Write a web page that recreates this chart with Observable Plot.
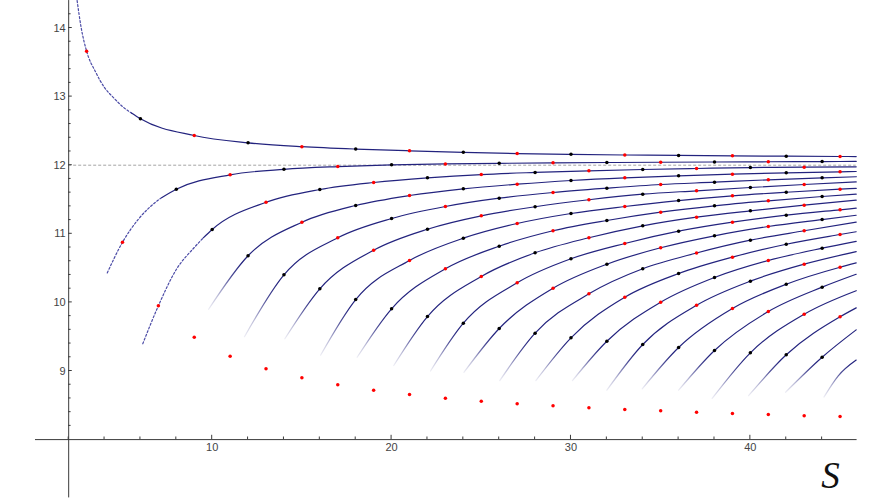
<!DOCTYPE html>
<html><head><meta charset="utf-8">
<script src="https://cdn.jsdelivr.net/npm/d3@7"></script>
<script src="https://cdn.jsdelivr.net/npm/@observablehq/plot@0.6"></script>
<style>
html,body{margin:0;padding:0;background:#fff;}
#chart{width:891px;height:501px;}
</style></head><body><div id="chart"></div>
<script>
// ---- axis ticks / labels ----
const xMajor = [10, 20, 30, 40];
const xLabels = ["10", "20", "30", "40"];
const xMinor = [2, 4, 6, 8, 12, 14, 16, 18, 22, 24, 26, 28, 32, 34, 36, 38, 42, 44];
const yMajor = [9, 10, 11, 12, 13, 14];
const yLabels = ["9", "10", "11", "12", "13", "14"];
const yMinor = [8.2, 8.4, 8.6, 8.8, 9.2, 9.4, 9.6, 9.8, 10.2, 10.4, 10.6, 10.8, 11.2, 11.4, 11.6, 11.8,
                12.2, 12.4, 12.6, 12.8, 13.2, 13.4, 13.6, 13.8, 14.2];
const asymptote = [12];
const axisLabel = "S";

// ---- lowest red points (S, E) ----
const bottomS = [9, 11, 13, 15, 17, 19, 21, 23, 25, 27, 29, 31, 33, 35, 37, 39, 41, 43, 45];
const bottomE = [9.493, 9.216, 9.032, 8.901, 8.799, 8.72, 8.657, 8.603, 8.56, 8.522, 8.493, 8.464,
                 8.439, 8.42, 8.40, 8.381, 8.366, 8.347, 8.337];

// ---- points on each branch: d = marked points, t = extra points of the drawn curve ----
const d0 = [[3,13.662],[6,12.676],[9,12.433],[12,12.326],[15,12.27],[18,12.235],[21,12.21],[24,12.188],[27,12.17],[30,12.158],[33,12.149],[36,12.142],[39,12.136],[42,12.131],[45,12.127]];
const t0 = [[2.47,14.4],[2.7,14.0],[3.5,13.36],[4,13.13],[4.5,12.985],[5,12.855],[5.5,12.76],[45.9,12.126]];
const d1 = [[5,10.877],[8,11.65],[11,11.86],[14,11.94],[17,11.98],[20,12.006],[23,12.018],[26,12.027],[29,12.034],[32,12.039],[35,12.043],[38,12.047],[41,12.05],[44,12.053]];
const t1 = [[4.15,10.43],[5.91,11.22],[6.84,11.46],[7.2,11.53],[45.9,12.055]];
const d2 = [[7,9.95],[10,11.063],[13,11.46],[16,11.646],[19,11.748],[22,11.816],[25,11.864],[28,11.894],[31,11.918],[34,11.937],[37,11.952],[40,11.966],[43,11.971]];
const t2 = [[6.13,9.397],[8,10.48],[9,10.80],[9.5,10.94],[45.9,11.976]];
const d3 = [[12,10.68],[15,11.169],[18,11.413],[21,11.558],[24,11.656],[27,11.723],[30,11.777],[33,11.816],[36,11.845],[39,11.869],[42,11.889],[45,11.904]];
const t3 = [[9.8,9.9],[45.9,11.908]];
const d4 = [[14,10.402],[17,10.942],[20,11.223],[23,11.398],[26,11.519],[29,11.602],[32,11.665],[35,11.719],[38,11.752],[41,11.787],[44,11.816]];
const t4 = [[11.8,9.50],[45.9,11.832]];
const d5 = [[16,10.198],[19,10.761],[22,11.067],[25,11.262],[28,11.394],[31,11.496],[34,11.577],[37,11.627],[40,11.675],[43,11.719]];
const t5 = [[14.05,9.47],[45.9,11.757]];
const d6 = [[18,10.042],[21,10.611],[24,10.936],[27,11.15],[30,11.296],[33,11.398],[36,11.485],[39,11.554],[42,11.606],[45,11.65]];
const t6 = [[16.04,9.23],[45.9,11.662]];
const d7 = [[20,9.907],[23,10.49],[26,10.819],[29,11.044],[32,11.194],[35,11.315],[38,11.408],[41,11.481],[44,11.544]];
const t7 = [[18.08,9.2],[45.9,11.578]];
const d8 = [[22,9.794],[25,10.378],[28,10.723],[31,10.942],[34,11.116],[37,11.242],[40,11.335],[43,11.417]];
const t8 = [[20.12,9.08],[45.9,11.49]];
const d9 = [[24,9.697],[27,10.286],[30,10.636],[33,10.859],[36,11.038],[39,11.169],[42,11.271],[45,11.35]];
const t9 = [[22.17,9.0],[45.9,11.373]];
const d10 = [[26,9.62],[29,10.207],[32,10.557],[35,10.796],[38,10.971],[41,11.106],[44,11.208]];
const t10 = [[24.03,8.98],[45.9,11.27]];
const d11 = [[28,9.551],[31,10.125],[34,10.49],[37,10.72],[40,10.907],[43,11.044]];
const t11 = [[26.03,8.86],[45.9,11.17]];
const d12 = [[30,9.484],[33,10.076],[36,10.421],[39,10.659],[42,10.848],[45,10.99]];
const t12 = [[28.04,8.86],[45.9,11.03]];
const d13 = [[32,9.434],[35,10.003],[38,10.363],[41,10.611],[44,10.79]];
const t13 = [[30.08,8.86],[45.9,10.89]];
const d14 = [[34,9.386],[37,9.959],[40,10.31],[43,10.557]];
const t14 = [[32.0,8.72],[45.9,10.74]];
const d15 = [[36,9.343],[39,9.911],[42,10.265],[45,10.513]];
const t15 = [[33.97,8.74],[45.9,10.575]];
const d16 = [[38,9.299],[41,9.867],[44,10.222]];
const t16 = [[36.0,8.72],[45.9,10.41]];
const d17 = [[40,9.265],[43,9.828]];
const t17 = [[37.87,8.6],[45.9,10.17]];
const d18 = [[42,9.236],[45,9.79]];
const t18 = [[39.9,8.64],[45.9,9.92]];
const d19 = [[44,9.201]];
const t19 = [[41.96,8.69],[45.9,9.60]];
const d20 = [];
const t20 = [[44.1,8.62],[44.9,8.93],[45.9,9.16]];
// S where the dashed start of the first three branches turns solid
const dashedUntil = [5.5, 7.2, 9.5];

// ---- styles ----
const LINE = "#23237e";
const DASH = "#4b4ba6";
const AXIS = "#3a3a3a";
const LABEL = "#444";
const FONT = "'Liberation Sans', Arial, sans-serif";
const SVGNS = "http://www.w3.org/2000/svg";

const D = [d0,d1,d2,d3,d4,d5,d6,d7,d8,d9,d10,d11,d12,d13,d14,d15,d16,d17,d18,d19,d20];
const T = [t0,t1,t2,t3,t4,t5,t6,t7,t8,t9,t10,t11,t12,t13,t14,t15,t16,t17,t18,t19,t20];

const branches = D.map((d, i) => {
  const pts = [...T[i], ...d].map(([S, E]) => ({S, E, id: i})).sort((a, b) => a.S - b.S);
  return {id: i, pts, dots: d.map(([S, E]) => ({S, E}))};
});

const dots = [
  ...branches.flatMap(b => b.dots),
  ...bottomS.map((S, i) => ({S, E: bottomE[i]}))
];

const dashedPts = branches.slice(0, 3).flatMap((b, i) => b.pts.filter(p => p.S <= dashedUntil[i]));
const solidPts = branches.slice(0, 3).flatMap((b, i) => b.pts.filter(p => p.S >= dashedUntil[i]));
const fadeBranches = branches.slice(3);

function el(name, attrs) {
  const e = document.createElementNS(SVGNS, name);
  for (const k in attrs) e.setAttribute(k, attrs[k]);
  return e;
}

function gradientDefs(index, scales) {
  const {x, y} = scales;
  const defs = el("defs", {});
  for (const b of fadeBranches) {
    const a = b.pts[0];
    const e = b.pts.find(p => p.S >= a.S + 1.7) || b.pts[b.pts.length - 1];
    const g = el("linearGradient", {
      id: `fade${b.id}`, gradientUnits: "userSpaceOnUse",
      x1: x(a.S), y1: y(a.E), x2: x(e.S), y2: y(e.E)
    });
    [[0, 0.08], [0.25, 0.3], [0.6, 0.8], [0.85, 1]].forEach(([o, op]) =>
      g.appendChild(el("stop", {offset: o, "stop-color": LINE, "stop-opacity": op})));
    defs.appendChild(g);
  }
  return defs;
}

function axisTicks(index, scales) {
  const {x, y} = scales;
  const g = el("g", {stroke: AXIS, "stroke-width": 1});
  const y0 = y(8), x0 = x(2);
  for (const t of xMinor) g.appendChild(el("line", {x1: x(t), x2: x(t), y1: y0, y2: y0 - 2.6}));
  for (const t of xMajor) g.appendChild(el("line", {x1: x(t), x2: x(t), y1: y0, y2: y0 - 4.3}));
  for (const t of yMinor) g.appendChild(el("line", {y1: y(t), y2: y(t), x1: x0, x2: x0 + 2.4}));
  for (const t of yMajor) g.appendChild(el("line", {y1: y(t), y2: y(t), x1: x0, x2: x0 + 3.6}));
  return g;
}

const plot = Plot.plot({
  width: 891,
  height: 501,
  marginTop: 0, marginRight: 0, marginBottom: 0, marginLeft: 0,
  x: {domain: [0, 46], range: [32.3, 857.5], axis: null},
  y: {domain: [8, 14], range: [439.1, 27.5], axis: null},
  style: {background: "#fff", fontFamily: FONT},
  marks: [
    gradientDefs,
    Plot.ruleY(asymptote, {x1: 2, x2: 45.9, stroke: "#9a9a9a", strokeWidth: 0.9, strokeDasharray: "3,2"}),
    Plot.ruleX([2], {y1: 7.15, y2: 14.4, stroke: AXIS, strokeWidth: 1}),
    Plot.ruleY([8], {x1: 0.15, x2: 45.95, stroke: AXIS, strokeWidth: 1}),
    axisTicks,
    Plot.text(yMajor, {x: 2, y: d => d, text: (d, i) => yLabels[i], textAnchor: "end", dx: -3, fill: LABEL, fontSize: 11}),
    Plot.text(xMajor, {x: d => d, y: 8, text: (d, i) => xLabels[i], dy: 4, lineAnchor: "top", fill: LABEL, fontSize: 11}),
    Plot.line(dashedPts, {x: "S", y: "E", z: "id", curve: "monotone-x", stroke: DASH, strokeWidth: 1.2, strokeDasharray: "2,2"}),
    Plot.line(solidPts, {x: "S", y: "E", z: "id", curve: "monotone-x", stroke: LINE, strokeWidth: 1.2}),
    ...fadeBranches.map(b => Plot.line(b.pts, {x: "S", y: "E", curve: "monotone-x", stroke: `url(#fade${b.id})`, strokeWidth: 1.2})),
    Plot.dot(dots, {x: "S", y: "E", r: 1.75, fill: d => (d.S % 2 === 1 ? "#ff0000" : "#000000"), stroke: "none"}),
    Plot.text([axisLabel], {frameAnchor: "bottom-right", dx: -61, dy: -14, text: d => d, textAnchor: "middle",
      fontFamily: "'Liberation Serif', 'Times New Roman', serif", fontStyle: "italic", fontSize: 37, fill: "#111"})
  ]
});
document.getElementById("chart").append(plot);
</script></body></html>
